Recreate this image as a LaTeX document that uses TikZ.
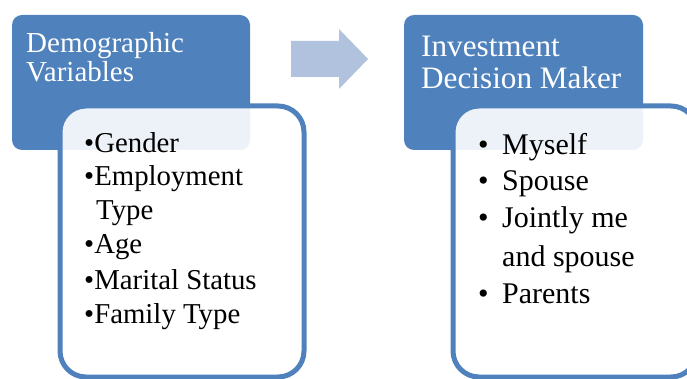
\documentclass[tikz,border=0pt]{standalone}
\usepackage{fontspec}
\setmainfont{Liberation Serif}
\definecolor{accent}{HTML}{4F81BD}
\definecolor{arrowfill}{HTML}{B0C2DE}
\begin{document}
\begin{tikzpicture}[x=1pt,y=-1pt,
  headbox/.style={fill=accent,draw=none,rounded corners=10pt},
  listbox/.style={fill=white,fill opacity=0.9,draw=accent,draw opacity=1,line width=5pt,rounded corners=26pt},
  headtext/.style={anchor=base west,inner sep=0pt,text=white,font=\fontsize{#1}{#1}\selectfont},
  itemtext/.style={anchor=base west,inner sep=0pt,text=black,font=\fontsize{#1}{#1}\selectfont}]
\useasboundingbox (0,0) rectangle (687,379);
\clip (0,0) rectangle (687,379);

% header boxes
\fill[headbox] (12,15) rectangle (250,150);
\fill[headbox] (404,15) rectangle (643,150);

% list boxes overlapping the headers
\draw[listbox] (60,106) rectangle (304,377);
\draw[listbox] (453,106) rectangle (697,377);

% arrow between the two groups
\fill[arrowfill] (291,41) -- (339,41) -- (339,29) -- (368,59) -- (339,89) -- (339,77) -- (291,77) -- cycle;

% header titles
\node[headtext=29] (h1a) at (26,52.7) {Demographic};
\node[headtext=29] (h1b) at (26,82) {Variables};
\node[headtext=31.2] (h2a) at (421,56.7) {Investment};
\node[headtext=31.2] (h2b) at (421,89) {Decision Maker};

% left list
\node[itemtext=28.8] (l1) at (84,153) {•Gender};
\node[itemtext=28.8] (l2) at (84,186) {•Employment};
\node[itemtext=28.8] (l2b) at (96,219) {Type};
\node[itemtext=28.8] (l3) at (84,253) {•Age};
\node[itemtext=28.8] (l4) at (84,289) {•Marital Status};
\node[itemtext=28.8] (l5) at (84,323) {•Family Type};

% right list
\node[itemtext=30] (r1) at (478,155) {\makebox[24pt][l]{•}Myself};
\node[itemtext=30] (r2) at (478,191) {\makebox[24pt][l]{•}Spouse};
\node[itemtext=30] (r3) at (478,228) {\makebox[24pt][l]{•}Jointly me};
\node[itemtext=30] (r3b) at (502,266) {and spouse};
\node[itemtext=30] (r4) at (478,303) {\makebox[24pt][l]{•}Parents};
\end{tikzpicture}
\end{document}
